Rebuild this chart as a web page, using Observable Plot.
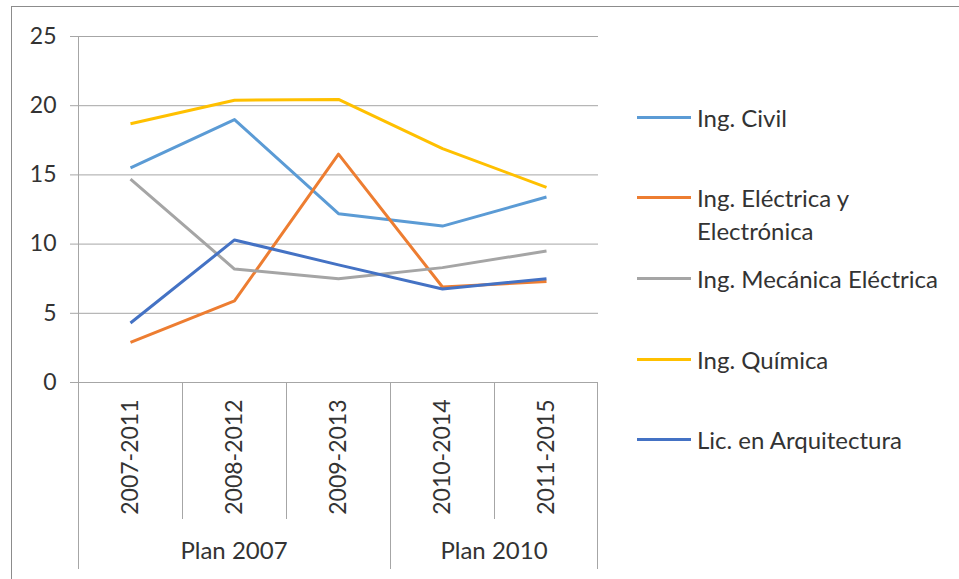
<!DOCTYPE html>
<html><head><meta charset="utf-8">
<script src="https://cdn.jsdelivr.net/npm/d3@7"></script>
<script src="https://cdn.jsdelivr.net/npm/@observablehq/plot@0.6"></script>
<style>
body{margin:0;background:#fff;font-family:Lato,sans-serif}
#wrap{position:relative;width:959px;height:579px}
.legend{position:absolute;left:637px;top:0;font-family:Lato,sans-serif;font-size:24px;color:#333;line-height:33px}
.item{position:absolute;left:0;display:flex;align-items:flex-start;white-space:nowrap}
.sw{width:54px;height:3px;margin-top:15px;margin-right:6px;flex:none}
</style></head><body><div id="wrap"></div>
<script>
const periods = ["2007-2011","2008-2012","2009-2013","2010-2014","2011-2015"];
const planGroups = ["Plan 2007","Plan 2007","Plan 2007","Plan 2010","Plan 2010"];
const seriesNames = ["Ing. Civil","Ing. Eléctrica y Electrónica","Ing. Mecánica Eléctrica","Ing. Química","Lic. en Arquitectura"];
const seriesColors = ["#5B9BD5","#ED7D31","#A5A5A5","#FFC000","#4472C4"];
const civil = [15.5, 19.0, 12.2, 11.3, 13.4];
const electrica = [2.9, 5.9, 16.5, 6.9, 7.3];
const mecanica = [14.7, 8.2, 7.5, 8.3, 9.5];
const quimica = [18.7, 20.4, 20.45, 16.9, 14.1];
const arquitectura = [4.3, 10.3, 8.5, 6.75, 7.5];
const yTicks = [0,5,10,15,20,25];

const allValues = [civil, electrica, mecanica, quimica, arquitectura];
const data = seriesNames.flatMap((s, i) => periods.map((p, j) => ({series: s, period: p, value: allValues[i][j]})));

const textColor = "#333";
const gridColor = "#a6a6a6";

function categoryFrame() {
  return (index, scales, values, dims) => {
    const x = scales.x, y = scales.y;
    const bw = x(periods[1]) - x(periods[0]);
    const offset = x(periods[0]) - dims.marginLeft;
    const left = p => x(p) - offset;
    const y0 = y(0);
    const g = d3.create("svg:g").attr("stroke", gridColor).attr("fill", "none");
    periods.forEach((p, i) => {
      const lx = Math.round(left(p)) + 0.5;
      const isGroupStart = i === 0 || planGroups[i] !== planGroups[i - 1];
      g.append("line").attr("x1", lx).attr("x2", lx).attr("y1", y0).attr("y2", y0 + (isGroupStart ? 187 : 137));
    });
    const right = Math.round(left(periods[periods.length - 1]) + bw) - 0.5;
    g.append("line").attr("x1", right).attr("x2", right).attr("y1", y0).attr("y2", y0 + 187);
    const groups = d3.groups(periods.map((p, i) => ({p, g: planGroups[i]})), d => d.g);
    for (const [name, items] of groups) {
      const a = left(items[0].p), b = left(items[items.length - 1].p) + bw;
      g.append("text").attr("x", (a + b) / 2).attr("y", y0 + 171)
        .attr("text-anchor", "middle").attr("dominant-baseline", "middle")
        .attr("fill", textColor).attr("stroke", "none")
        .attr("font-size", 24).attr("font-family", "Lato, sans-serif").text(name);
    }
    return g.node();
  };
}

const chart = Plot.plot({
  width: 959, height: 579,
  marginLeft: 78, marginRight: 361, marginTop: 36, marginBottom: 197,
  style: {fontFamily: "Lato, sans-serif", color: textColor, background: "white", overflow: "visible"},
  x: {type: "band", domain: periods, padding: 0, axis: null},
  y: {domain: [0, 25], axis: null},
  color: {domain: seriesNames, range: seriesColors},
  marks: [
    Plot.gridY(yTicks, {stroke: gridColor, strokeOpacity: 1}),
    Plot.axisY({ticks: yTicks, tickSize: 8, tickPadding: 14, fontSize: 23, stroke: gridColor, tickFormat: d => d, fill: textColor, label: null}),
    Plot.axisX({tickRotate: -90, tickSize: 0, tickPadding: 17, fontSize: 23, fill: textColor, label: null}),
    categoryFrame(),
    Plot.line(data, {x: "period", y: "value", z: "series", stroke: "series", strokeWidth: 3, strokeLinejoin: "round", strokeLinecap: "butt"})
  ]
});

d3.select(chart).append("line").attr("x1", 78.5).attr("x2", 78.5).attr("y1", 36).attr("y2", 569).attr("stroke", gridColor);
d3.select(chart).append("line").attr("x1", 11).attr("x2", 959).attr("y1", 6.5).attr("y2", 6.5).attr("stroke", "#8c8c8c");
d3.select(chart).append("line").attr("x1", 11.5).attr("x2", 11.5).attr("y1", 6).attr("y2", 579).attr("stroke", "#8c8c8c");

const wrap = document.getElementById("wrap");
wrap.appendChild(chart);

const legendY = [117, 197, 278, 359, 439];
const legend = document.createElement("div");
legend.className = "legend";
const legendLines = [["Ing. Civil"], ["Ing. Eléctrica y", "Electrónica"], ["Ing. Mecánica Eléctrica"], ["Ing. Química"], ["Lic. en Arquitectura"]];
seriesNames.forEach((s, i) => {
  const it = document.createElement("div");
  it.className = "item";
  it.style.top = (legendY[i] - 16.5) + "px";
  const sw = document.createElement("div");
  sw.className = "sw";
  sw.style.background = seriesColors[i];
  const tx = document.createElement("div");
  tx.innerHTML = legendLines[i].join("<br>");
  it.appendChild(sw); it.appendChild(tx);
  legend.appendChild(it);
});
wrap.appendChild(legend);
</script>
</body></html>
